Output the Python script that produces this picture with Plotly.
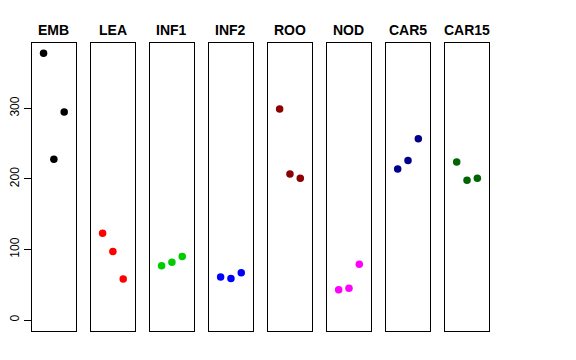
import plotly.graph_objects as go

categories = ["EMB", "LEA", "INF1", "INF2", "ROO", "NOD", "CAR5", "CAR15"]
values = [
    [378, 228, 295],
    [123, 97, 58],
    [77, 82, 90],
    [61, 59, 67],
    [299, 207, 201],
    [43, 45, 79],
    [214, 226, 257],
    [224, 198, 201],
]
colors = ["#000000", "#FF0000", "#00CD00", "#0000FF", "#8B0000", "#FF00FF", "#00008B", "#006400"]
yticks = [0, 100, 200, 300]

W, H = 576, 360
OFF = 8  # page body margin offset
left0, pw, step = 28.7 - OFF, 44.8, 59.33
top_px, bot_px = 42.7 - OFF, 330.7 - OFF
ymin, ymax = 0, 378
pad = 0.04 * (ymax - ymin)

fig = go.Figure()
for i, (cat, vals, col) in enumerate(zip(categories, values, colors)):
    n = i + 1
    xa = "x" if n == 1 else f"x{n}"
    ya = "y" if n == 1 else f"y{n}"
    fig.add_trace(go.Scatter(x=[1, 2, 3], y=vals, mode="markers",
                             marker=dict(color=col, size=7.5),
                             xaxis=xa, yaxis=ya, showlegend=False, hoverinfo="skip"))
    l = left0 + i * step
    dom = [l / W, (l + pw) / W]
    key = "" if n == 1 else str(n)
    fig.layout["xaxis" + key] = dict(domain=dom, range=[-0.16, 4.16], showgrid=False, zeroline=False,
                                     showticklabels=False, ticks="", showline=True, mirror=True,
                                     linecolor="black", linewidth=1, anchor=ya)
    ax = dict(domain=[1 - bot_px / H, 1 - top_px / H], range=[ymin - pad, ymax + pad], showgrid=False,
              zeroline=False, showline=True, mirror=True, linecolor="black", linewidth=1, anchor=xa)
    if n == 1:
        ax.update(tickvals=yticks, ticktext=[str(t) for t in yticks], ticks="outside", ticklen=7,
                  tickcolor="black", tickangle=-90,
                  tickfont=dict(family="Liberation Sans, Arial, sans-serif", size=12, color="black"))
    else:
        ax.update(showticklabels=False, ticks="")
    fig.layout["yaxis" + key] = ax
    fig.add_annotation(text=f"<b>{cat}</b>", x=(l + pw / 2) / W, y=1 - (29.5 - OFF) / H,
                       xref="paper", yref="paper",
                       showarrow=False, xanchor="center", yanchor="middle",
                       font=dict(family="Liberation Sans, Arial, sans-serif", size=14, color="black"))

fig.update_layout(width=W, height=H, margin=dict(l=0, r=0, t=0, b=0),
                  paper_bgcolor="white", plot_bgcolor="white")
fig.write_html("out.html")
